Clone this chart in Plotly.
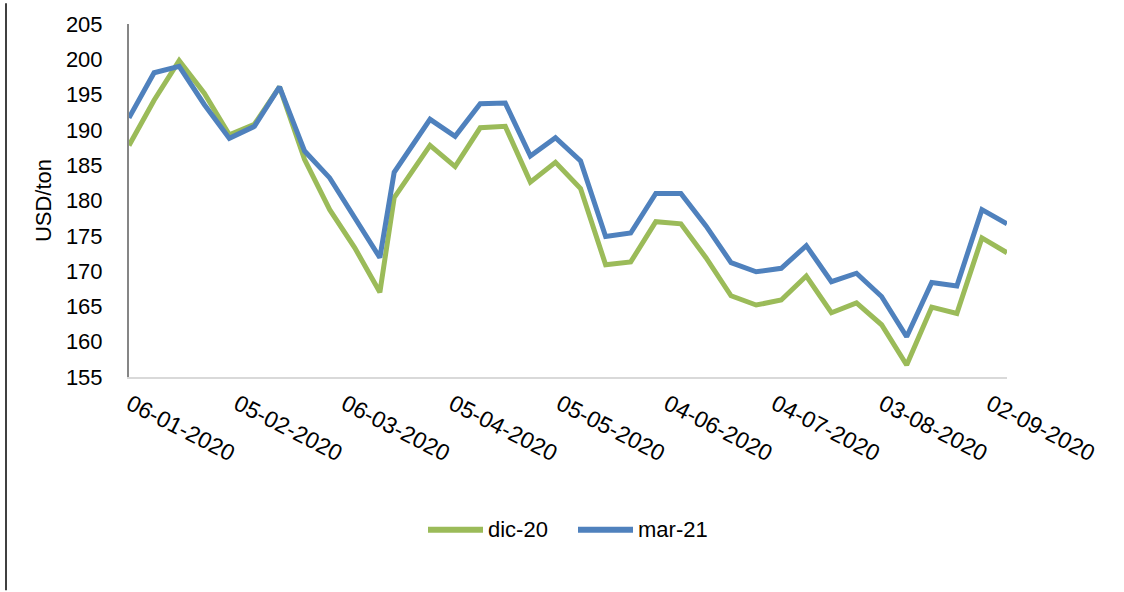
import plotly.graph_objects as go
import pandas as pd

# ---- data ----
dates = [
    "2020-01-06", "2020-01-13", "2020-01-20", "2020-01-27", "2020-02-03", "2020-02-10",
    "2020-02-17", "2020-02-24", "2020-03-02", "2020-03-09", "2020-03-16", "2020-03-20",
    "2020-03-30", "2020-04-06", "2020-04-13", "2020-04-20", "2020-04-27", "2020-05-04",
    "2020-05-11", "2020-05-18", "2020-05-25", "2020-06-01", "2020-06-08", "2020-06-15",
    "2020-06-22", "2020-06-29", "2020-07-06", "2020-07-13", "2020-07-20", "2020-07-27",
    "2020-08-03", "2020-08-10", "2020-08-17", "2020-08-24", "2020-08-31", "2020-09-07",
]
dic_20 = [
    187.8, 194.2, 199.8, 195.2, 189.3, 190.8, 196.1, 185.8, 178.7, 173.3, 167.0, 180.4,
    187.8, 184.8, 190.3, 190.5, 182.6, 185.4, 181.7, 170.9, 171.3, 177.0, 176.7, 171.9,
    166.5, 165.2, 165.9, 169.3, 164.1, 165.5, 162.4, 156.7, 164.9, 164.0, 174.7, 172.6,
]
mar_21 = [
    191.7, 198.1, 199.0, 193.6, 188.8, 190.5, 196.1, 187.0, 183.2, 177.4, 171.9, 184.0,
    191.5, 189.1, 193.7, 193.8, 186.3, 188.9, 185.6, 174.9, 175.4, 181.0, 181.0, 176.4,
    171.2, 169.9, 170.4, 173.6, 168.5, 169.7, 166.4, 160.7, 168.4, 167.9, 178.7, 176.7,
]
series_names = ["dic-20", "mar-21"]
tick_labels = ["06-01-2020", "05-02-2020", "06-03-2020", "05-04-2020", "05-05-2020",
               "04-06-2020", "04-07-2020", "03-08-2020", "02-09-2020"]
y_ticks = [155, 160, 165, 170, 175, 180, 185, 190, 195, 200, 205]
y_title = "USD/ton"

# ---- styling ----
GREEN = "#9BBB59"
BLUE = "#4F81BD"
COLORS = [GREEN, BLUE]
FONT = "Liberation Sans, Arial, sans-serif"
FS = 22

W, H = 1124, 592
L, R, T, B = 129, 117, 21, 215
PW, PH = W - L - R, H - T - B


def px_x(p):
    return (p - L) / PW


def px_y(p):
    return (H - B - p) / PH


tick_vals = [pd.to_datetime(t, format="%d-%m-%Y").strftime("%Y-%m-%d") for t in tick_labels]

fig = go.Figure()
for name, vals, col in zip(series_names, [dic_20, mar_21], COLORS):
    fig.add_trace(go.Scatter(x=dates, y=vals, name=name, mode="lines",
                             line=dict(color=col, width=5, shape="linear"),
                             hoverinfo="skip", showlegend=False))

fig.update_layout(
    width=W, height=H,
    margin=dict(l=L, r=R, t=T, b=B, pad=0),
    paper_bgcolor="white", plot_bgcolor="white",
    font=dict(family=FONT, size=FS, color="#000000"),
    showlegend=False,
    hovermode=False,
)
fig.update_xaxes(
    type="date", range=[dates[0], dates[-1]],
    tickmode="array", tickvals=tick_vals, ticktext=tick_labels,
    tickangle=27, ticks="", showgrid=False, zeroline=False,
    showline=True, linecolor="#D9D9D9", linewidth=2,
    tickfont=dict(family=FONT, size=23, color="#000000"),
    ticklabelstandoff=3, ticklabelshift=1,
)
fig.update_yaxes(
    range=[155, 205], tickmode="array", tickvals=y_ticks,
    ticks="", showgrid=False, zeroline=False,
    showline=True, linecolor="#868686", linewidth=2,
    tickfont=dict(family=FONT, size=FS, color="#000000"),
    ticklabelstandoff=20,
    title=dict(text=y_title, font=dict(family=FONT, size=FS, color="#000000"), standoff=8),
)

# legend drawn manually (long line samples as in the reference)
legend_sample_px = [(428, 483), (578, 633)]
legend_y_px = 531
for (x0, x1), name, col in zip(legend_sample_px, series_names, COLORS):
    fig.add_shape(type="line", xref="paper", yref="paper",
                  x0=px_x(x0), x1=px_x(x1), y0=px_y(legend_y_px), y1=px_y(legend_y_px),
                  line=dict(color=col, width=6))
    fig.add_annotation(text=name, xref="paper", yref="paper",
                       x=px_x(x1 + 3), y=px_y(legend_y_px), xanchor="left", yanchor="middle",
                       showarrow=False, font=dict(family=FONT, size=FS, color="#000000"))

# left frame line of the chart area (visible in reference at the left edge)
fig.add_shape(type="line", xref="paper", yref="paper",
              x0=px_x(6), x1=px_x(6), y0=px_y(H), y1=px_y(0),
              line=dict(color="#404040", width=2))

fig.write_html("out.html", config={"displayModeBar": False},
               post_script="document.body.style.margin='0';")
